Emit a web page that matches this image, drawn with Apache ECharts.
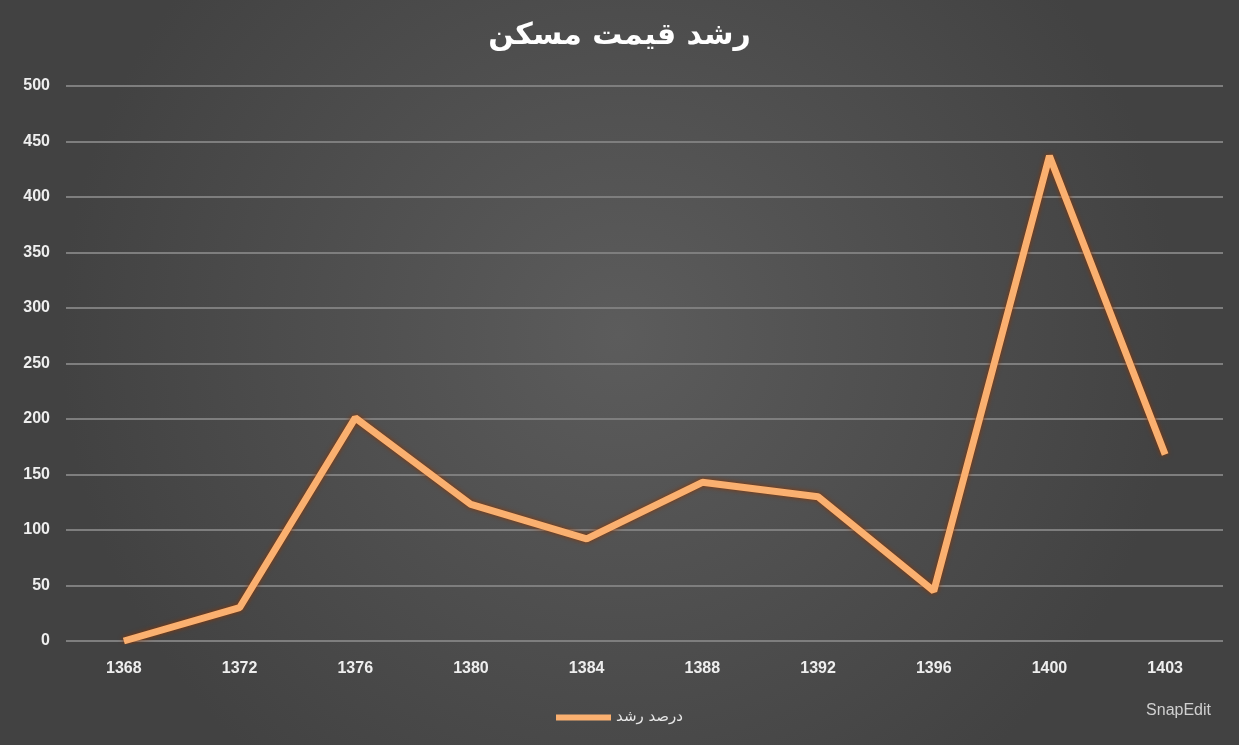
<!DOCTYPE html>
<html>
<head>
<meta charset="utf-8">
<script src="https://cdn.jsdelivr.net/npm/echarts@6/dist/echarts.min.js"></script>
<style>
html,body{margin:0;padding:0;background:#444;}
#main{width:1239px;height:745px;}
</style>
</head>
<body>
<div id="main"></div>
<script>
const titleText = 'رشد قیمت مسکن';
const seriesName = 'درصد رشد';
const categories = ['1368','1372','1376','1380','1384','1388','1392','1396','1400','1403'];
const growthValues = [0, 30, 201, 123, 92, 143, 130, 45, 437, 168];
const yTicks = {min: 0, max: 500, interval: 50};

const chart = echarts.init(document.getElementById('main'));
chart.setOption({
  backgroundColor: {
    type: 'radial', x: 0.5, y: 0.45, r: 0.75,
    colorStops: [{offset: 0, color: '#5c5c5c'}, {offset: 1, color: '#424242'}]
  },
  animation: false,
  title: {
    text: titleText, left: 'center', top: 16,
    textStyle: {color: '#ffffff', fontSize: 30, fontWeight: 'bold', fontFamily: 'DejaVu Sans'}
  },
  legend: {
    data: [{name: seriesName, icon: 'rect'}],
    bottom: 15, left: 'center',
    itemWidth: 55, itemHeight: 6,
    textStyle: {color: '#e8e8e8', fontSize: 15, fontFamily: 'DejaVu Sans'}
  },
  graphic: [{
    type: 'text', right: 28, bottom: 26,
    style: {text: 'SnapEdit', fill: '#d0d0d0', fontSize: 16, fontFamily: 'Liberation Sans'}
  }],
  grid: {left: 66, right: 16, top: 86, bottom: 104},
  xAxis: {
    type: 'category', data: categories, boundaryGap: true,
    axisLine: {show: false}, axisTick: {show: false},
    axisLabel: {color: '#eeeeee', fontSize: 16, margin: 20, fontWeight: 'bold', fontFamily: 'Liberation Sans'}
  },
  yAxis: {
    type: 'value', min: yTicks.min, max: yTicks.max, interval: yTicks.interval,
    axisLine: {show: false}, axisTick: {show: false},
    axisLabel: {color: '#eeeeee', fontSize: 16, margin: 16, fontWeight: 'bold', fontFamily: 'Liberation Sans'},
    splitLine: {lineStyle: {color: '#7e7e7e', width: 2}}
  },
  series: [{
    name: seriesName, type: 'line', data: growthValues,
    symbol: 'none',
    lineStyle: {color: '#fab070', width: 7, shadowColor: '#8a3400', shadowBlur: 5},
    itemStyle: {color: '#fab070'}
  }]
});
</script>
</body>
</html>
